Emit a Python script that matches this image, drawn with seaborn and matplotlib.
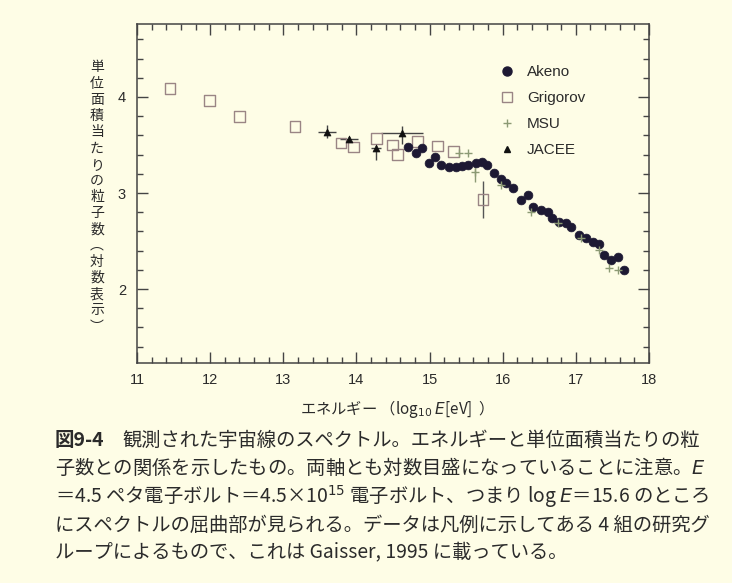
import matplotlib
matplotlib.use("Agg")
import numpy as np
import pandas as pd
import matplotlib.pyplot as plt
from matplotlib.lines import Line2D
from matplotlib.ticker import MultipleLocator
import seaborn as sns

# %%
# data (log10 E [eV], log flux)
akeno_logE = [14.71, 14.81, 14.90, 14.99, 15.08, 15.16, 15.26, 15.36, 15.45, 15.53,
              15.63, 15.71, 15.79, 15.88, 15.97, 16.05, 16.14, 16.25, 16.34, 16.42,
              16.52, 16.62, 16.68, 16.77, 16.86, 16.93, 17.04, 17.14, 17.23, 17.32,
              17.38, 17.48, 17.58, 17.66]
akeno_flux = [3.48, 3.42, 3.47, 3.31, 3.38, 3.29, 3.27, 3.27, 3.28, 3.29,
              3.31, 3.32, 3.29, 3.21, 3.15, 3.10, 3.05, 2.93, 2.98, 2.85,
              2.82, 2.80, 2.74, 2.70, 2.69, 2.65, 2.56, 2.53, 2.49, 2.47,
              2.35, 2.30, 2.33, 2.20]

grigorov_logE = [11.45, 11.99, 12.40, 13.16, 13.79, 13.96, 14.27, 14.49, 14.56, 14.84, 15.11, 15.33, 15.73]
grigorov_flux = [4.09, 3.96, 3.80, 3.69, 3.52, 3.48, 3.57, 3.50, 3.40, 3.54, 3.49, 3.43, 2.93]
grigorov_yerr = [0, 0, 0, 0, 0, 0, 0, 0, 0, 0, 0, 0, 0.19]

msu_logE = [15.40, 15.53, 15.62, 15.97, 16.38, 16.75, 17.07, 17.32, 17.45, 17.58]
msu_flux = [3.42, 3.42, 3.22, 3.08, 2.80, 2.69, 2.53, 2.41, 2.22, 2.20]
msu_yerr = [0, 0, 0.11, 0, 0, 0, 0, 0, 0, 0]

jacee_logE = [13.60, 13.90, 14.27, 14.62]
jacee_flux = [3.64, 3.56, 3.47, 3.63]
jacee_xerr = [0.12, 0.12, 0.07, 0.29]
jacee_yerr_lo = [0.07, 0.02, 0.13, 0.12]
jacee_yerr_hi = [0.07, 0.02, 0.0, 0.07]

series_names = ["Akeno", "Grigorov", "MSU", "JACEE"]
x_ticks = [11, 12, 13, 14, 15, 16, 17, 18]
y_ticks = [2, 3, 4]

caption_lines = [
    "観測された宇宙線のスペクトル。エネルギーと単位面積当たりの粒",
    "子数との関係を示したもの。両軸とも対数目盛になっていることに注意。$E$",
    "＝4.5 ペタ電子ボルト＝4.5×10$^{15}$ 電子ボルト、つまり log $E$＝15.6 のところ",
    "にスペクトルの屈曲部が見られる。データは凡例に示してある 4 組の研究グ",
    "ループによるもので、これは Gaisser, 1995 に載っている。",
]

# %%
bg = "#fefde6"
ink = "#2b2b2b"
akeno_c = "#1d1933"
grig_c = "#9a8585"
msu_c = "#8c9a74"
jacee_c = "#111111"

sns.set_theme(style="ticks")
plt.rcParams["font.family"] = ["Liberation Sans", "Noto Sans CJK JP", "DejaVu Sans"]
plt.rcParams["axes.unicode_minus"] = False

fig = plt.figure(figsize=(7.32, 5.83), dpi=100, facecolor=bg)
ax = fig.add_axes([137 / 732, 1 - 363 / 583, 512 / 732, 339 / 583])
ax.set_facecolor(bg)

# error bars
ax.errorbar(grigorov_logE, grigorov_flux, yerr=grigorov_yerr, fmt="none",
            ecolor="#555555", elinewidth=1.0, capsize=0, zorder=2)
ax.errorbar(msu_logE, msu_flux, yerr=msu_yerr, fmt="none",
            ecolor=msu_c, elinewidth=1.0, capsize=0, zorder=2)
ax.errorbar(jacee_logE, jacee_flux, xerr=jacee_xerr,
            yerr=[jacee_yerr_lo, jacee_yerr_hi], fmt="none",
            ecolor="#444444", elinewidth=1.0, capsize=0, zorder=2)

# markers
sns.scatterplot(x=grigorov_logE, y=grigorov_flux, marker="s", s=60,
                facecolor="none", edgecolor=grig_c, linewidth=1.0, ax=ax, zorder=3)
sns.scatterplot(x=akeno_logE, y=akeno_flux, marker="o", s=40,
                color=akeno_c, edgecolor=akeno_c, linewidth=0.5, ax=ax, zorder=4)
sns.scatterplot(x=msu_logE, y=msu_flux, marker="+", s=40,
                color=msu_c, linewidth=1.0, ax=ax, zorder=5)
sns.scatterplot(x=jacee_logE, y=jacee_flux, marker="^", s=25,
                color=jacee_c, edgecolor=jacee_c, linewidth=0.5, ax=ax, zorder=5)

ax.set_xlim(11, 18)
ax.set_ylim(1.23, 4.76)
ax.set_xticks(x_ticks)
ax.set_yticks(y_ticks)
ax.xaxis.set_minor_locator(MultipleLocator(0.2))
ax.yaxis.set_minor_locator(MultipleLocator(0.2))
ax.tick_params(which="both", direction="in", top=True, right=True,
               color="#444444", width=1.0, labelsize=10.5, labelcolor=ink)
ax.tick_params(which="major", length=8)
ax.tick_params(which="minor", length=4.5)
ax.tick_params(axis="x", pad=7)
ax.tick_params(axis="y", pad=8)
for sp in ax.spines.values():
    sp.set_color("#444444")
    sp.set_linewidth(1.1)

ax.set_xlabel("エネルギー （log$_{10}$ $E$[eV]  ）", family=["Noto Sans CJK JP"],
              fontsize=11, color=ink, labelpad=8)
ax.set_ylabel("")

# vertical y label
ylab = list("単位面積当たりの粒子数") + ["︵", "対", "数", "表", "示", "︶"]
fig.text(97 / 732, 1 - 197 / 583, "\n".join(ylab), ha="center", va="center",
         fontsize=10, linespacing=1.2, color=ink,
         family=["Noto Sans CJK JP", "DejaVu Sans"])

# legend
handles = [
    Line2D([], [], ls="none", marker="o", ms=6.5, color=akeno_c),
    Line2D([], [], ls="none", marker="s", ms=6.5, mfc="none", mec=grig_c, mew=1.0),
    Line2D([], [], ls="none", marker="+", ms=6, color=msu_c, mew=1.0),
    Line2D([], [], ls="none", marker="^", ms=5, color=jacee_c),
]
ax.legend(handles, series_names, loc="upper left", bbox_to_anchor=(0.708, 0.878),
          frameon=False, fontsize=11, handlelength=1.0, handletextpad=0.8,
          labelspacing=0.78, borderaxespad=0, borderpad=0, labelcolor=ink)

# caption
cap_y = [440, 468, 497, 525, 553]
fig.text(55 / 732, 1 - cap_y[0] / 583, "図9-4", ha="left", va="center",
         fontsize=14, weight="bold", color=ink, family=["Noto Sans CJK JP"])
for i, line in enumerate(caption_lines):
    x0 = 122 if i == 0 else 55
    fig.text(x0 / 732, 1 - cap_y[i] / 583, line, ha="left", va="center",
             fontsize=13.9, color=ink, family=["Noto Sans CJK JP"])

fig.savefig("out.png", dpi=100, facecolor=bg)
